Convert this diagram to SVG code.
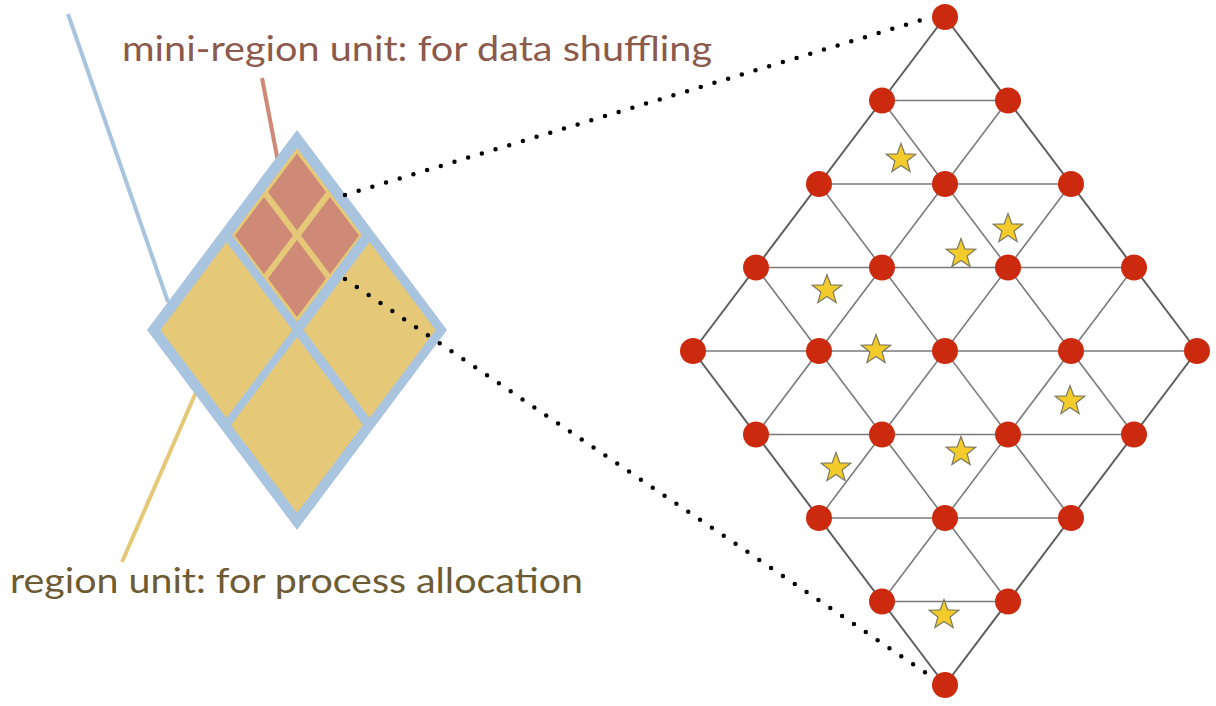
<svg xmlns="http://www.w3.org/2000/svg" width="1216" height="706" viewBox="0 0 1216 706">
<defs>
<style>
.lbl{font-family:Lato,"Open Sans","Liberation Sans",sans-serif;font-size:35px}
.grid line{stroke:#7a7a7a;stroke-width:1.6}
.grid line.outer{stroke:#5e5e5e;stroke-width:2}
.dot{stroke:#000;stroke-width:4.5;stroke-linecap:round;stroke-dasharray:0 14.3;fill:none}
.node{fill:#cc2a0e}
.star{fill:#f3cc2c;stroke:#7d7a60;stroke-width:1.2}
.blue{fill:#a9c4df}
.yel{fill:#e5c878}
.sal{fill:#cf8977}
</style>
<path id="star" d="M0,-15.5 L3.76,-5.19 L14.74,-4.79 L6.1,1.98 L9.11,12.54 L0,6.4 L-9.11,12.54 L-6.1,1.98 L-14.74,-4.79 L-3.76,-5.19 Z"/>
</defs>
<rect width="1216" height="706" fill="#fff"/>

<g id="leaders">
<line x1="68" y1="14" x2="168" y2="302" stroke="#a9c4df" stroke-width="4"/>
<line x1="262" y1="78" x2="280" y2="172" stroke="#cf8977" stroke-width="4"/>
<line x1="200" y1="383" x2="122" y2="562" stroke="#e5c878" stroke-width="4"/>
</g>

<g id="region-diamond">
<polygon class="blue" points="297,130 447,330 297,530 147,330"/>
<polygon class="yel" points="226.5,242 292.5,330 226.5,418 160.5,330"/>
<polygon class="yel" points="369.5,242 435.5,330 369.5,418 303.5,330"/>
<polygon class="yel" points="297,337 363,425 297,513 231,425"/>
<g id="mini-region">
<polygon class="yel" points="297,148 362,235 297,322 232,235"/>
<polygon class="sal" points="297,153.5 326,192 297,230.5 268,192"/>
<polygon class="sal" points="264,197 293,235.5 264,274 235,235.5"/>
<polygon class="sal" points="330,197 359,235.5 330,274 301,235.5"/>
<polygon class="sal" points="297,240 326,278.5 297,317 268,278.5"/>
</g>
</g>

<g id="zoom-lines">
<line class="dot" x1="345" y1="195" x2="928" y2="18"/>
<line class="dot" x1="345" y1="279" x2="932" y2="677"/>
</g>

<g id="labels">
<text class="lbl" x="122" y="61" fill="#8c5a4c" textLength="590" lengthAdjust="spacingAndGlyphs">mini-region unit: for data shuffling</text>
<text class="lbl" x="10" y="593" fill="#6d5c33" textLength="573" lengthAdjust="spacingAndGlyphs">region unit: for process allocation</text>
</g>

<g id="grid" class="grid">
<line x1="882" y1="100.5" x2="1008" y2="100.5"/>
<line x1="819" y1="184" x2="1071" y2="184"/>
<line x1="756" y1="267.5" x2="1134" y2="267.5"/>
<line x1="693" y1="351" x2="1197" y2="351"/>
<line x1="756" y1="434.5" x2="1134" y2="434.5"/>
<line x1="819" y1="518" x2="1071" y2="518"/>
<line x1="882" y1="601.5" x2="1008" y2="601.5"/>
<line class="outer" x1="945" y1="17" x2="1197" y2="351"/>
<line x1="882" y1="100.5" x2="1134" y2="434.5"/>
<line x1="819" y1="184" x2="1071" y2="518"/>
<line x1="756" y1="267.5" x2="1008" y2="601.5"/>
<line class="outer" x1="693" y1="351" x2="945" y2="685"/>
<line class="outer" x1="945" y1="17" x2="693" y2="351"/>
<line x1="1008" y1="100.5" x2="756" y2="434.5"/>
<line x1="1071" y1="184" x2="819" y2="518"/>
<line x1="1134" y1="267.5" x2="882" y2="601.5"/>
<line class="outer" x1="1197" y1="351" x2="945" y2="685"/>
</g>

<g id="stars">
<use href="#star" class="star" x="901" y="159"/>
<use href="#star" class="star" x="1008" y="229"/>
<use href="#star" class="star" x="961" y="254"/>
<use href="#star" class="star" x="827" y="290"/>
<use href="#star" class="star" x="876" y="350"/>
<use href="#star" class="star" x="1070" y="401"/>
<use href="#star" class="star" x="961" y="452"/>
<use href="#star" class="star" x="836" y="468"/>
<use href="#star" class="star" x="944" y="615"/>
</g>

<g id="nodes">
<circle class="node" cx="945" cy="17" r="13"/>
<circle class="node" cx="882" cy="100.5" r="13"/>
<circle class="node" cx="1008" cy="100.5" r="13"/>
<circle class="node" cx="819" cy="184" r="13"/>
<circle class="node" cx="945" cy="184" r="13"/>
<circle class="node" cx="1071" cy="184" r="13"/>
<circle class="node" cx="756" cy="267.5" r="13"/>
<circle class="node" cx="882" cy="267.5" r="13"/>
<circle class="node" cx="1008" cy="267.5" r="13"/>
<circle class="node" cx="1134" cy="267.5" r="13"/>
<circle class="node" cx="693" cy="351" r="13"/>
<circle class="node" cx="819" cy="351" r="13"/>
<circle class="node" cx="945" cy="351" r="13"/>
<circle class="node" cx="1071" cy="351" r="13"/>
<circle class="node" cx="1197" cy="351" r="13"/>
<circle class="node" cx="756" cy="434.5" r="13"/>
<circle class="node" cx="882" cy="434.5" r="13"/>
<circle class="node" cx="1008" cy="434.5" r="13"/>
<circle class="node" cx="1134" cy="434.5" r="13"/>
<circle class="node" cx="819" cy="518" r="13"/>
<circle class="node" cx="945" cy="518" r="13"/>
<circle class="node" cx="1071" cy="518" r="13"/>
<circle class="node" cx="882" cy="601.5" r="13"/>
<circle class="node" cx="1008" cy="601.5" r="13"/>
<circle class="node" cx="945" cy="685" r="13"/>
</g>
</svg>
